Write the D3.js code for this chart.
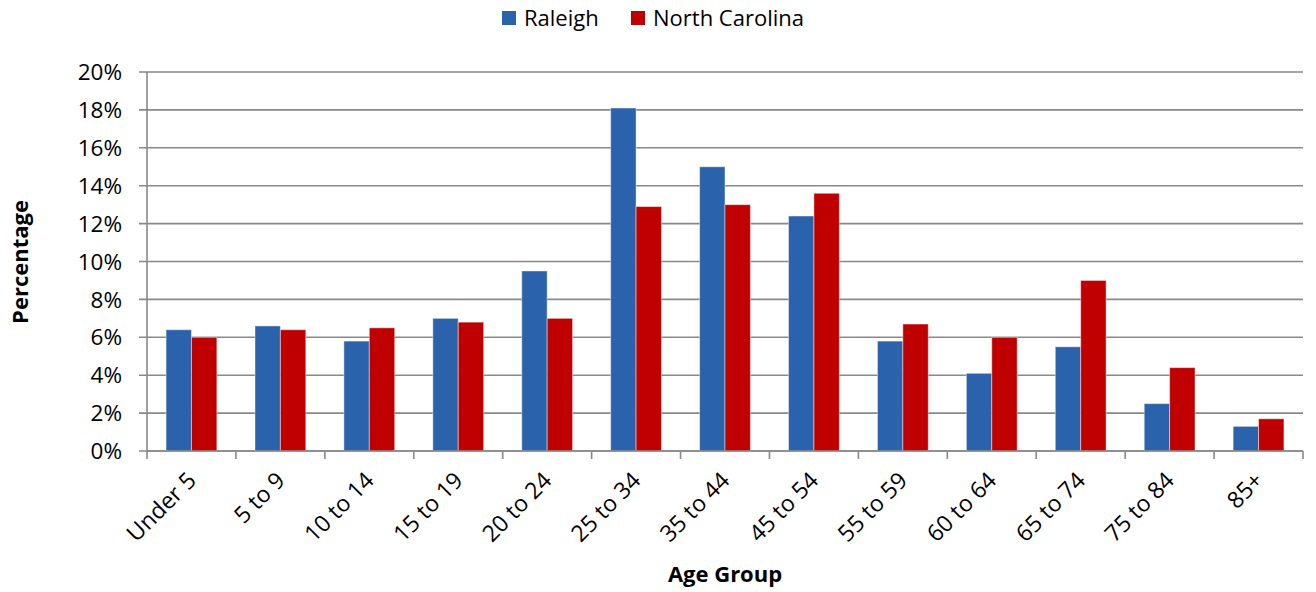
<!doctype html>
<html lang="en">
<head>
    <title>Age Groups</title>
    <script src="https://d3js.org/d3.v7.min.js"></script>
    <style type="text/css">
        body { margin: 0; background: #fff; }
        text { font-family: "Open Sans", sans-serif; fill: #000; }
    </style>
</head>

<body>
</body>

<script type="text/javascript">

    var width  = 1316;
    var height = 592;

    var ageGroups = ["Under 5","5 to 9","10 to 14","15 to 19","20 to 24","25 to 34","35 to 44",
                     "45 to 54","55 to 59","60 to 64","65 to 74","75 to 84","85+"];
    var raleigh       = [6.4, 6.6, 5.8, 7.0, 9.5, 18.1, 15.0, 12.4, 5.8, 4.1, 5.5, 2.5, 1.3];
    var northCarolina = [6.0, 6.4, 6.5, 6.8, 7.0, 12.9, 13.0, 13.6, 6.7, 6.0, 9.0, 4.4, 1.7];
    var seriesNames = ["Raleigh", "North Carolina"];
    var colors = ["#2A62AC", "#C00000"];
    var yTicks = [0, 2, 4, 6, 8, 10, 12, 14, 16, 18, 20];

    var plotLeft = 147, plotRight = 1303, plotTop = 72, plotBottom = 451;
    var gridColor = "#898989";

    var svg = d3.select("body")
        .append("svg")
        .attr("width", width)
        .attr("height", height);

    var x = d3.scaleBand()
        .domain(ageGroups)
        .range([plotLeft, plotRight])
        .paddingInner(0)
        .paddingOuter(0);

    // Excel style: gap width 75% -> bars fill 1/1.75 of each band
    var inner = d3.scaleBand()
        .domain(seriesNames)
        .range([0, x.bandwidth() / 1.75]);

    var y = d3.scaleLinear()
        .domain([0, 20])
        .range([plotBottom, plotTop]);

    // gridlines
    svg.append("g")
        .selectAll("line")
        .data(yTicks)
        .enter()
        .append("line")
        .attr("x1", plotLeft - 8)
        .attr("x2", plotRight)
        .attr("y1", d => y(d))
        .attr("y2", d => y(d))
        .attr("stroke", gridColor)
        .attr("stroke-width", 1.6);

    // y tick labels
    svg.append("g")
        .selectAll("text")
        .data(yTicks)
        .enter()
        .append("text")
        .attr("x", 122)
        .attr("y", d => y(d))
        .attr("dy", "0.36em")
        .attr("text-anchor", "end")
        .style("font-size", "22.5px")
        .text(d => d + "%");

    // bars
    var rows = ageGroups.map((g, i) => ({group: g, values: [raleigh[i], northCarolina[i]]}));
    var offset = (x.bandwidth() - inner.range()[1]) / 2;

    var groups = svg.append("g")
        .selectAll("g")
        .data(rows)
        .enter()
        .append("g")
        .attr("transform", d => "translate(" + (x(d.group) + offset) + ",0)");

    groups.selectAll("rect")
        .data(d => d.values.map((v, j) => ({name: seriesNames[j], value: v, idx: j})))
        .enter()
        .append("rect")
        .attr("x", d => inner(d.name))
        .attr("y", d => y(d.value))
        .attr("width", inner.bandwidth())
        .attr("height", d => plotBottom - y(d.value))
        .attr("fill", d => colors[d.idx])
        .attr("stroke", "#ffffff")
        .attr("stroke-opacity", 0.45)
        .attr("stroke-width", 1);

    // axes lines
    svg.append("line")
        .attr("x1", plotLeft).attr("x2", plotLeft)
        .attr("y1", plotTop).attr("y2", plotBottom)
        .attr("stroke", gridColor).attr("stroke-width", 1.6);
    svg.append("line")
        .attr("x1", plotLeft).attr("x2", plotRight)
        .attr("y1", plotBottom).attr("y2", plotBottom)
        .attr("stroke", gridColor).attr("stroke-width", 1.6);

    // x ticks at band edges
    var edges = ageGroups.map(g => x(g)).concat([plotRight]);
    svg.append("g")
        .selectAll("line")
        .data(edges)
        .enter()
        .append("line")
        .attr("x1", d => d).attr("x2", d => d)
        .attr("y1", plotBottom).attr("y2", plotBottom + 8)
        .attr("stroke", gridColor).attr("stroke-width", 1.6);

    // x labels, rotated
    svg.append("g")
        .selectAll("text")
        .data(ageGroups)
        .enter()
        .append("text")
        .attr("transform", d => "translate(" + (x(d) + x.bandwidth() / 2 + 6) + "," + (plotBottom + 31) + ") rotate(-45)")
        .attr("text-anchor", "end")
        .style("font-size", "23px")
        .text(d => d);

    // axis titles
    svg.append("text")
        .attr("x", (plotLeft + plotRight) / 2)
        .attr("y", 582)
        .attr("text-anchor", "middle")
        .style("font-size", "22px")
        .style("font-weight", "bold")
        .text("Age Group");

    svg.append("text")
        .attr("transform", "translate(28,262) rotate(-90)")
        .attr("text-anchor", "middle")
        .style("font-size", "22px")
        .style("font-weight", "bold")
        .text("Percentage");

    // legend
    var legendX = [502, 631];
    var legend = svg.append("g")
        .selectAll("g")
        .data(seriesNames)
        .enter()
        .append("g")
        .attr("transform", (d, i) => "translate(" + legendX[i] + ",0)");

    legend.append("rect")
        .attr("x", 0).attr("y", 11)
        .attr("width", 14).attr("height", 14)
        .attr("fill", (d, i) => colors[i]);

    legend.append("text")
        .attr("x", 22)
        .attr("y", 26)
        .style("font-size", "22px")
        .text(d => d);

</script>

</html>
